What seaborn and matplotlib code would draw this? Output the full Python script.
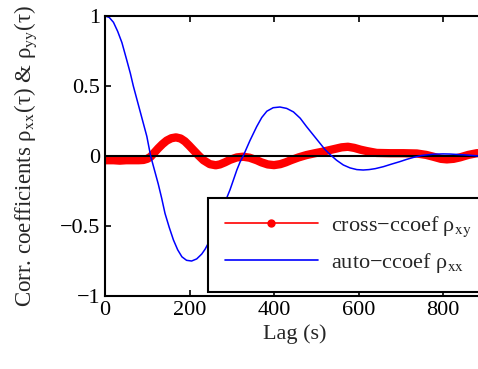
import seaborn as sns
import matplotlib
matplotlib.use("Agg")
import matplotlib.pyplot as plt
from matplotlib.lines import Line2D
import pandas as pd

# auto-correlation coefficient rho_xx
lag_auto = [0, 10, 20, 30, 40, 51, 60, 67, 75, 83, 91, 99, 108, 117, 126, 134, 142,
            152, 162, 172, 182, 193, 205, 217, 229, 237, 245, 255, 265, 276, 288, 296,
            304, 312, 320, 327, 343, 359, 371, 383, 398, 414, 430, 446, 462, 477, 493,
            509, 521, 533, 548, 564, 580, 596, 611, 625, 640, 659, 678, 698, 714, 730,
            750, 777, 800, 817, 840, 856, 885, 900]
rho_xx = [1.00, 0.99, 0.955, 0.89, 0.81, 0.69, 0.59, 0.50, 0.41, 0.32, 0.23, 0.14, 0.00,
          -0.10, -0.20, -0.30, -0.41, -0.51, -0.60, -0.67, -0.72, -0.745, -0.75, -0.735,
          -0.70, -0.665, -0.62, -0.555, -0.48, -0.39, -0.30, -0.24, -0.17, -0.10, -0.04,
          0.00, 0.11, 0.21, 0.275, 0.32, 0.345, 0.35, 0.34, 0.315, 0.27, 0.21, 0.15,
          0.09, 0.045, 0.01, -0.03, -0.064, -0.085, -0.097, -0.10, -0.097, -0.09,
          -0.076, -0.058, -0.04, -0.024, -0.01, 0.004, 0.013, 0.015, 0.014, 0.01,
          0.007, 0.0, -0.002]

# cross-correlation coefficient rho_xy
lag_cross = [0, 20, 35, 50, 67, 80, 91, 100, 108, 117, 126, 136, 146, 157, 168, 179,
             189, 199, 209, 221, 233, 248, 262, 272, 284, 296, 312, 327, 342, 359, 370,
             385, 400, 415, 428, 440, 458, 477, 497, 517, 540, 560, 575, 590, 605, 620,
             643, 675, 706, 738, 760, 777, 795, 809, 825, 840, 860, 880, 900]
rho_xy = [-0.03, -0.03, -0.033, -0.03, -0.03, -0.03, -0.028, -0.02, -0.005, 0.025,
          0.055, 0.085, 0.11, 0.127, 0.133, 0.125, 0.105, 0.075, 0.043, 0.005, -0.03,
          -0.058, -0.066, -0.06, -0.045, -0.027, -0.01, -0.005, -0.012, -0.03, -0.045,
          -0.06, -0.065, -0.058, -0.045, -0.03, -0.01, 0.007, 0.02, 0.032, 0.048,
          0.062, 0.066, 0.058, 0.045, 0.035, 0.022, 0.02, 0.02, 0.018, 0.008, -0.005,
          -0.02, -0.024, -0.02, -0.01, 0.008, 0.02, 0.022]

x_ticks = [0, 200, 400, 600, 800]
y_ticks = [-1, -0.5, 0, 0.5, 1]
y_tick_labels = ["\u22121", "\u22120.5", "0", "0.5", "1"]
legend_labels = ["cross\u2212ccoef \u03c1$_{\\mathrm{xy}}$",
                 "auto\u2212ccoef \u03c1$_{\\mathrm{xx}}$"]
y_label = ("Corr. coefficients \u03c1$_{\\mathrm{xx}}$(\u03c4) & "
           "\u03c1$_{\\mathrm{yy}}$(\u03c4)")

sns.set_theme(style="ticks")
plt.rcParams["font.family"] = ["Liberation Serif", "DejaVu Serif"]
plt.rcParams["mathtext.fontset"] = "stix"

df_auto = pd.DataFrame({"lag": lag_auto, "rho": rho_xx})
df_cross = pd.DataFrame({"lag": lag_cross, "rho": rho_xy})

fig = plt.figure(figsize=(4.78, 3.69), dpi=100)
# right spine sits just past the figure edge, like the cropped original
ax = fig.add_axes([0.2197, 0.1978, 0.7955, 0.7588])

sns.lineplot(data=df_cross, x="lag", y="rho", color="red", lw=6,
             solid_capstyle="round", solid_joinstyle="round", ax=ax)
ax.axhline(0, color="black", lw=1.5)
sns.lineplot(data=df_auto, x="lag", y="rho", color="blue", lw=1.1, ax=ax)

ax.set_xlim(0, 900)
ax.set_ylim(-1, 1)
ax.set_xticks(x_ticks)
ax.set_yticks(y_ticks)
ax.set_yticklabels(y_tick_labels)
ax.tick_params(direction="in", length=4, width=1.2, labelsize=16,
               top=True, right=True, colors="black")
for s in ax.spines.values():
    s.set_linewidth(1.5)
    s.set_color("black")

ax.set_xlabel("Lag (s)", fontsize=16, labelpad=3)
ax.set_ylabel(y_label, fontsize=16.5, labelpad=15)

handles = [Line2D([], [], color="red", lw=1.2, marker=".", markersize=10),
           Line2D([], [], color="blue", lw=1.2)]
leg = ax.legend(handles, legend_labels, loc="upper left", mode="expand",
                bbox_to_anchor=(0.271, 0.0, 0.722, 0.351),
                fontsize=16, frameon=True, fancybox=False, handlelength=4.2,
                borderpad=0.75, labelspacing=0.55, handletextpad=0.6, borderaxespad=0)
leg.get_frame().set_edgecolor("black")
leg.get_frame().set_linewidth(1.5)
leg.get_frame().set_alpha(1)

fig.savefig("out.png", dpi=100)
